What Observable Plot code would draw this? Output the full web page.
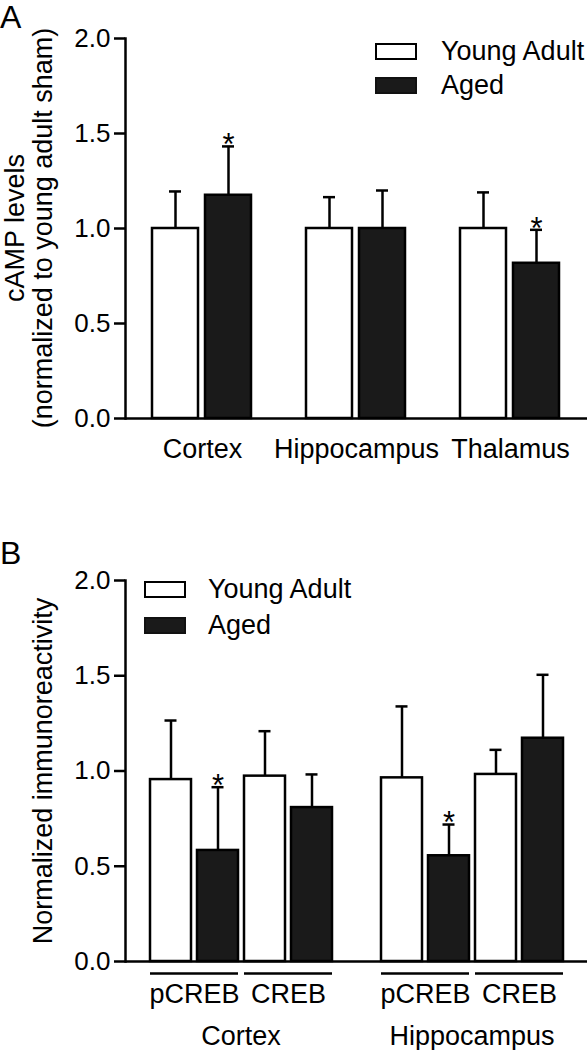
<!DOCTYPE html>
<html><head><meta charset="utf-8">
<script src="https://cdn.jsdelivr.net/npm/d3@7"></script>
<script src="https://cdn.jsdelivr.net/npm/@observablehq/plot@0.6"></script>
<style>
body{margin:0;background:#fff;}
#root{position:relative;width:588px;height:1050px;font-family:"Liberation Sans",Arial,Helvetica,sans-serif;color:#000;overflow:hidden;background:#fff}
#root svg{display:block}
.abs{position:absolute;white-space:nowrap;line-height:1}
.rot{transform:translate(-50%,-50%) rotate(-90deg)}
.sw{position:absolute;box-sizing:border-box;border:2.5px solid #000}
</style></head><body><div id="root"></div>
<script>
// ---- Panel A data: cAMP levels ----
const regionsA = ["Cortex", "Hippocampus", "Thalamus"];
const groups = ["Young Adult", "Aged"];
const groupFill = ["#ffffff", "#1a1a1a"];
const youngMeanA = [1.0, 1.0, 1.0];
const youngErrA = [0.195, 0.165, 0.19];
const agedMeanA = [1.175, 1.0, 0.817];
const agedErrA = [0.257, 0.2, 0.176];
const agedSigA = [true, false, true];

// ---- Panel B data: immunoreactivity ----
const regionsB = ["Cortex", "Hippocampus"];
const markersB = ["pCREB", "CREB"];
// order: Cortex pCREB, Cortex CREB, Hippocampus pCREB, Hippocampus CREB
const youngMeanB = [0.955, 0.973, 0.964, 0.982];
const youngErrB = [0.31, 0.236, 0.375, 0.129];
const agedMeanB = [0.583, 0.808, 0.555, 1.172];
const agedErrB = [0.332, 0.174, 0.164, 0.333];
const agedSigB = [true, false, true, false];

const yTicks = [0, 0.5, 1.0, 1.5, 2.0];
const titleA = ["cAMP levels", "(normalized to young adult sham)"];
const titleB = "Normalized immunoreactivity";

// ---- tables ----
const rowsA = [];
regionsA.forEach((r, i) => {
  rowsA.push({region: r, group: groups[0], value: youngMeanA[i], err: youngErrA[i], sig: false});
  rowsA.push({region: r, group: groups[1], value: agedMeanA[i], err: agedErrA[i], sig: agedSigA[i]});
});
const rowsB = [];
regionsB.forEach((r, ri) => {
  markersB.forEach((m, mi) => {
    const k = ri * markersB.length + mi;
    rowsB.push({region: r, marker: m, group: groups[0], key: m + " " + groups[0], value: youngMeanB[k], err: youngErrB[k], sig: false});
    rowsB.push({region: r, marker: m, group: groups[1], key: m + " " + groups[1], value: agedMeanB[k], err: agedErrB[k], sig: agedSigB[k]});
  });
});
const keysB = [];
markersB.forEach(m => groups.forEach(g => keysB.push(m + " " + g)));

const font = '"Liberation Sans", Arial, Helvetica, sans-serif';
const LW = 2.5;
const common = {
  width: 588, marginLeft: 124, marginRight: 1,
  style: {fontFamily: font, fontSize: "26px", color: "#000", background: "transparent", overflow: "visible"}
};
const yOpts = {domain: [0, 2], ticks: yTicks, tickFormat: d3.format(".1f"), tickSize: 11, tickPadding: 4, line: true, label: null};
const LBL = 27;

const plotA = Plot.plot({
  ...common,
  height: 520, marginTop: 38, marginBottom: 102,
  facet: {data: rowsA, x: "region"},
  fx: {domain: regionsA, padding: 0, axis: null, label: null},
  x: {domain: groups, paddingInner: 0.127, paddingOuter: 0.516, axis: null},
  y: yOpts,
  color: {domain: groups, range: groupFill},
  marks: [
    Plot.barY(rowsA, {x: "group", y: "value", fill: "group", stroke: "#000", strokeWidth: LW}),
    Plot.ruleX(rowsA, {x: "group", y1: "value", y2: d => d.value + d.err, stroke: "#000", strokeWidth: LW}),
    Plot.tickY(rowsA, {x: "group", y: d => d.value + d.err, stroke: "#000", strokeWidth: LW, insetLeft: 17, insetRight: 17}),
    Plot.ruleY([0], {stroke: "#000", strokeWidth: LW}),
    Plot.text(rowsA, {filter: d => d.sig, x: "group", y: d => d.value + d.err, text: () => "*", dy: -1, fontSize: 31, lineAnchor: "middle"}),
    Plot.text(rowsA, {filter: d => d.group === groups[0], text: "region", frameAnchor: "bottom", lineAnchor: "middle", dy: 30.5, fontSize: LBL})
  ]
});

const plotB = Plot.plot({
  ...common,
  height: 530, marginTop: 60, marginBottom: 89,
  facet: {data: rowsB, x: "region"},
  fx: {domain: regionsB, padding: 0, axis: null, label: null},
  x: {domain: keysB, paddingInner: 0.133, paddingOuter: 0.519, axis: null},
  y: yOpts,
  color: {domain: groups, range: groupFill},
  marks: [
    Plot.barY(rowsB, {x: "key", y: "value", fill: "group", stroke: "#000", strokeWidth: LW}),
    Plot.ruleX(rowsB, {x: "key", y1: "value", y2: d => d.value + d.err, stroke: "#000", strokeWidth: LW}),
    Plot.tickY(rowsB, {x: "key", y: d => d.value + d.err, stroke: "#000", strokeWidth: LW, insetLeft: 14.5, insetRight: 14.5}),
    Plot.ruleY([0], {stroke: "#000", strokeWidth: LW}),
    Plot.text(rowsB, {filter: d => d.sig, x: "key", y: d => d.value + d.err, text: () => "*", dy: -1, fontSize: 31, lineAnchor: "middle"}),
    Plot.ruleY(rowsB, {filter: d => d.group === groups[0], x1: "key", x2: d => d.marker + " " + groups[1], y: 0, dy: 12, stroke: "#000", strokeWidth: LW}),
    Plot.text(rowsB, {filter: d => d.group === groups[0], x: "key", text: "marker", frameAnchor: "bottom", lineAnchor: "middle", dx: 23.6, dy: 33, fontSize: LBL}),
    Plot.text(rowsB, {filter: d => d.group === groups[0] && d.marker === markersB[0], text: "region", frameAnchor: "bottom", lineAnchor: "middle", dy: 75, fontSize: LBL})
  ]
});

const root = document.getElementById("root");
root.appendChild(plotA);
root.appendChild(plotB);
// thicker axis strokes (axis line and tick marks)
d3.selectAll("#root svg line, #root svg path").style("stroke-width", LW + "px");

function addDiv(cls, css, text) {
  const d = document.createElement("div");
  d.className = cls;
  d.style.cssText = css;
  if (text != null) d.textContent = text;
  root.appendChild(d);
  return d;
}
// panel letters
addDiv("abs", "left:0px;top:1px;font-size:32px;line-height:32px;", "A");
addDiv("abs", "left:0px;top:537px;font-size:32px;line-height:32px;", "B");
// y titles
addDiv("abs rot", "left:15px;top:228px;font-size:27px;line-height:27px;", titleA[0]);
addDiv("abs rot", "left:43px;top:228px;font-size:27px;line-height:27px;", titleA[1]);
addDiv("abs rot", "left:43px;top:771px;font-size:27px;line-height:27px;", titleB);
// legends
function legend(x, y1, y2, tx) {
  addDiv("sw", `left:${x}px;top:${y1 - 8}px;width:42px;height:17px;background:${groupFill[0]};`);
  addDiv("sw", `left:${x}px;top:${y2 - 8}px;width:42px;height:17px;background:${groupFill[1]};border-color:#111;`);
  addDiv("abs", `left:${tx}px;top:${y1 - 13.5}px;font-size:27px;line-height:27px;`, groups[0]);
  addDiv("abs", `left:${tx}px;top:${y2 - 13.5}px;font-size:27px;line-height:27px;`, groups[1]);
}
legend(375, 51, 85, 441);
legend(144, 589, 625, 208);
</script></body></html>
